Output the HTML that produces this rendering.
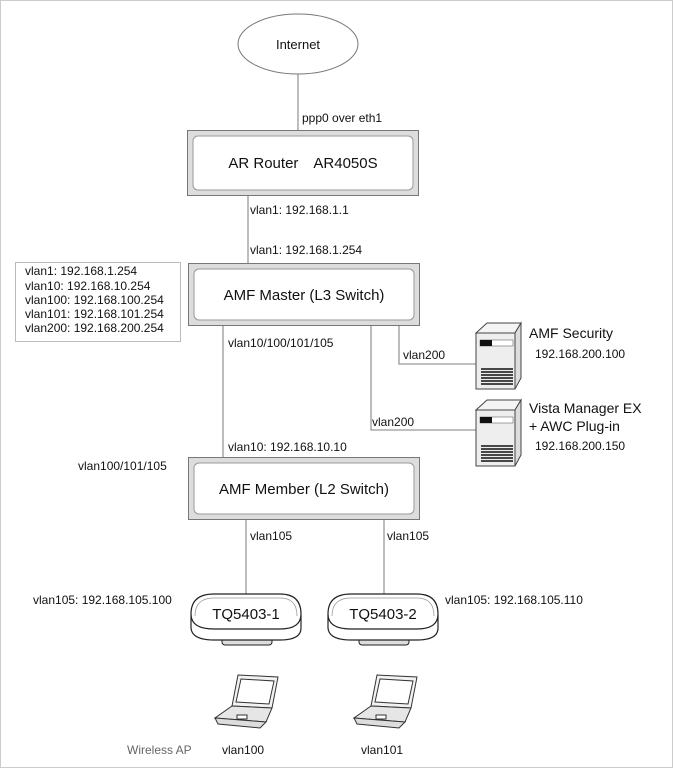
<!DOCTYPE html>
<html><head><meta charset="utf-8"><style>
body{margin:0;background:#fff}
svg{display:block}
text{font-family:"Liberation Sans",sans-serif;font-size:12px;fill:#111}
.b{font-size:15px}
</style></head><body>
<svg width="673" height="768" viewBox="0 0 673 768">
<rect x="0.5" y="0.5" width="672" height="767" fill="#fff" stroke="#ccc"/>
<g stroke="#999" stroke-width="1.3" fill="none">
<line x1="298" y1="74" x2="298" y2="130"/>
<line x1="248" y1="195" x2="248" y2="263"/>
<line x1="223" y1="325" x2="223" y2="457"/>
<polyline points="371,325 371,430 476,430"/>
<polyline points="399,325 399,364 476,364"/>
<line x1="246" y1="520" x2="246" y2="597"/>
<line x1="384" y1="520" x2="384" y2="597"/>
</g>
<ellipse cx="298" cy="44" rx="60" ry="30" fill="#fff" stroke="#777"/>
<text x="298" y="49" text-anchor="middle" class="b" style="font-size:13px">Internet</text>
<text x="302" y="122">ppp0 over eth1</text>
<g>
<rect x="187.5" y="130.5" width="231" height="65" fill="#ddd" stroke="#777"/>
<rect x="193" y="136" width="220" height="54" rx="5" fill="#fff" stroke="#999"/>
<text x="303" y="168" text-anchor="middle" class="b">AR Router　AR4050S</text>
</g>
<text x="250" y="214">vlan1: 192.168.1.1</text>
<text x="250" y="254">vlan1: 192.168.1.254</text>
<rect x="15.5" y="262.5" width="165" height="79" fill="#fff" stroke="#bbb"/>
<text x="25" y="275">vlan1: 192.168.1.254</text>
<text x="25" y="290">vlan10: 192.168.10.254</text>
<text x="25" y="304">vlan100: 192.168.100.254</text>
<text x="25" y="318">vlan101: 192.168.101.254</text>
<text x="25" y="332">vlan200: 192.168.200.254</text>
<rect x="188.5" y="263.5" width="231" height="62" fill="#ddd" stroke="#777"/>
<rect x="194" y="269" width="220" height="51" rx="5" fill="#fff" stroke="#999"/>
<text x="304" y="300" text-anchor="middle" class="b">AMF Master (L3 Switch)</text>
<text x="228" y="347">vlan10/100/101/105</text>
<text x="403" y="359">vlan200</text>
<text x="372" y="426">vlan200</text>
<text x="228" y="451">vlan10: 192.168.10.10</text>
<text x="78" y="470">vlan100/101/105</text>
<rect x="188.5" y="457.5" width="231" height="62" fill="#ddd" stroke="#777"/>
<rect x="194" y="463" width="220" height="51" rx="5" fill="#fff" stroke="#999"/>
<text x="304" y="494" text-anchor="middle" class="b">AMF Member (L2 Switch)</text>
<text x="250" y="540">vlan105</text>
<text x="387" y="540">vlan105</text>
<text x="33" y="604">vlan105: 192.168.105.100</text>
<text x="445" y="604">vlan105: 192.168.105.110</text>
<g id="srv">
<polygon points="476,333 487,323 521,323 515,333" fill="#f4f4f4" stroke="#444"/>
<polygon points="515,333 521,323 521,378 515,389" fill="#ddd" stroke="#444"/>
<rect x="476" y="333" width="39" height="56" fill="#eee" stroke="#444"/>
<rect x="480" y="340" width="33" height="6" fill="#fff" stroke="#666" stroke-width="0.6"/>
<rect x="480" y="340" width="12" height="6" fill="#111"/>
<g stroke="#111" stroke-width="1.4"><line x1="481" y1="369" x2="513" y2="369"/><line x1="481" y1="372" x2="513" y2="372"/><line x1="481" y1="375" x2="513" y2="375"/><line x1="481" y1="378" x2="513" y2="378"/><line x1="481" y1="381" x2="513" y2="381"/><line x1="481" y1="384" x2="513" y2="384"/></g>
</g>
<use href="#srv" transform="translate(0,77)"/>
<text x="529" y="338" class="b" style="font-size:14px">AMF Security</text>
<text x="535" y="358">192.168.200.100</text>
<text x="529" y="413" class="b" style="font-size:14px">Vista Manager EX</text>
<text x="529" y="431" class="b" style="font-size:14px">+ AWC Plug-in</text>
<text x="535" y="450">192.168.200.150</text>
<g id="ap">
<rect x="222" y="634" width="50" height="11" rx="3" fill="#ddd" stroke="#222"/>
<path d="M191,615 L191,628 Q192,640 214,640 L280,640 Q301,640 301,628 L301,615 Z" fill="#fff" stroke="#222" stroke-width="1.2"/>
<path d="M191,614 Q191,594 214,594 L280,594 Q301,594 301,614 Q301,629 280,629 L214,629 Q191,629 191,614 Z" fill="#fff" stroke="#222" stroke-width="1.2"/>
<path d="M195,616 Q195,598 214,598 L280,598 Q297,598 297,616" fill="none" stroke="#999" stroke-width="0.8"/>
</g>
<use href="#ap" transform="translate(137,0)"/>
<text x="246" y="619" text-anchor="middle" class="b">TQ5403-1</text>
<text x="383" y="619" text-anchor="middle" class="b">TQ5403-2</text>
<g id="lap" fill="#f2f2f2" stroke="#333" stroke-width="1">
<polygon points="238,675 278,677 272,708 232,706"/>
<polygon points="241,679 274,681 269,704 236,702" fill="#fff"/>
<polygon points="232,706 272,708 266,722 215,718" fill="#e6e6e6"/>
<polygon points="215,718 266,722 260,728 218,724" fill="#ddd"/>
<rect x="237" y="715" width="10" height="4" fill="#fff"/>
</g>
<use href="#lap" transform="translate(139,0)"/>
<text x="127" y="754" style="fill:#666">Wireless AP</text>
<text x="222" y="754">vlan100</text>
<text x="361" y="754">vlan101</text>
</svg>
</body></html>
